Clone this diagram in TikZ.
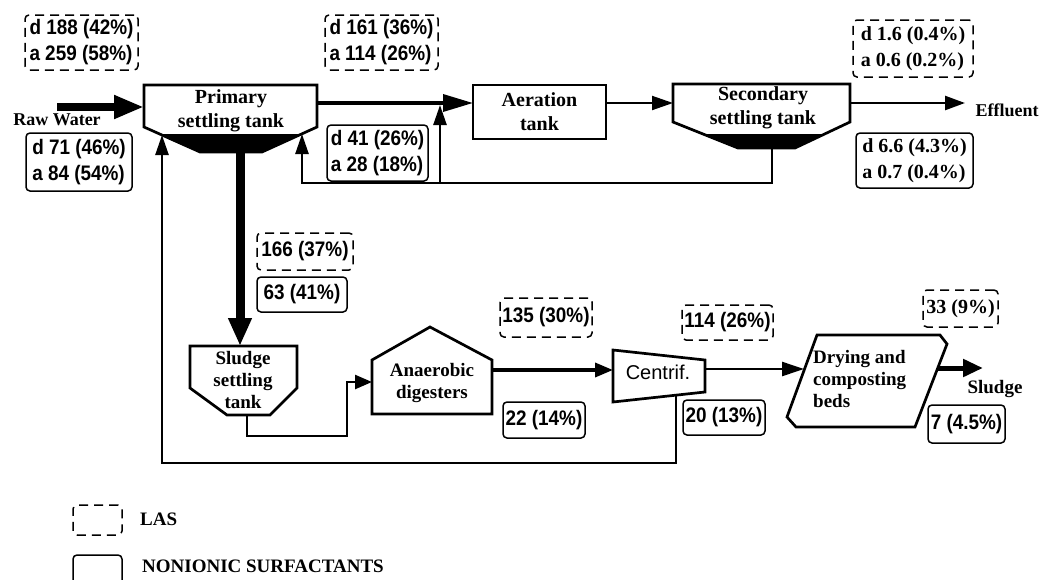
\documentclass[tikz,border=0pt]{standalone}
\usepackage{fontspec}
\setmainfont{Liberation Serif}
\newfontfamily\arl[FakeStretch=0.9]{Liberation Sans}
\newfontfamily\arlr{Liberation Sans}
\usetikzlibrary{arrows.meta}
\tikzset{
  shp/.style={draw=black, line width=2.7pt, line join=miter, fill=white},
  ttl/.style={font=\bfseries\fontsize{20}{24}\selectfont, align=center, inner sep=0pt},
  ttls/.style={font=\bfseries\fontsize{19}{22}\selectfont, align=center, inner sep=0pt},
  lbox/.style={line width=1.5pt, rounded corners=4pt, inner sep=0pt, align=left},
  las/.style={lbox, draw, dash pattern=on 9pt off 6pt},
  non/.style={lbox, draw},
  sansf/.style={font=\arl\bfseries\fontsize{21}{26}\selectfont},
  serf/.style={font=\bfseries\fontsize{20}{26}\selectfont},
  flow/.style={line width=2.5pt},
}
\begin{document}
\begin{tikzpicture}[x=1pt,y=-1pt]
\useasboundingbox (0,0) rectangle (1053,579);
\fill[white] (0,0) rectangle (1053,579);

% ---- ports ----
\coordinate (rawS) at (57,107);
\coordinate (primW) at (144,107);
\coordinate (primE) at (317,103);
\coordinate (primB) at (240,152);
\coordinate (primRd) at (302,134);
\coordinate (primLd) at (162,135);
\coordinate (aerW) at (473,103);
\coordinate (aerE) at (606,103);
\coordinate (secW) at (673,103);
\coordinate (secE) at (850,103);
\coordinate (secB) at (772,148);
\coordinate (effT) at (965,103);
\coordinate (recR) at (772,183);
\coordinate (recJ) at (440,183);
\coordinate (recL) at (302,183);
\coordinate (mainJ) at (440,105);
\coordinate (slT) at (240,346);
\coordinate (slB) at (247,415);
\coordinate (sl1) at (247,436);
\coordinate (sl2) at (347,436);
\coordinate (sl3) at (347,382);
\coordinate (anW) at (372,382);
\coordinate (anE) at (492,370);
\coordinate (ceW) at (613,370);
\coordinate (ceE) at (705,369);
\coordinate (ceB) at (676,395);
\coordinate (ret1) at (676,463);
\coordinate (ret2) at (162,463);
\coordinate (drW) at (804,369);
\coordinate (drE) at (938,368);
\coordinate (sluT) at (983,368);

% ---- shapes ----
\draw[shp] (144,85) -- (317,85) -- (317,127) -- (262,152) -- (200,152) -- (144,127) -- cycle;
\fill (161,134) -- (300,134) -- (262,152) -- (200,152) -- cycle;
\node[ttl] (prim) at (231,111) {Primary\\settling tank};

\node[draw, line width=2.7pt, minimum width=133pt, minimum height=54pt, ttl] (aer) at (539.5,112) {Aeration\\tank};

\draw[shp] (673,84) -- (850,84) -- (850,122) -- (795,148) -- (738,148) -- (673,122) -- cycle;
\fill (704,134) -- (823,134) -- (795,148) -- (738,148) -- cycle;
\node[ttl] (sec) at (763,108) {Secondary\\settling tank};

\draw[shp] (190,346) -- (297,346) -- (297,388) -- (270,415) -- (227,415) -- (190,388) -- cycle;
\node[ttls] (sls) at (243,380) {Sludge\\settling\\tank};

\draw[shp] (372,414) -- (372,360) -- (430,327) -- (492,360) -- (492,414) -- cycle;
\node[ttls] (ana) at (432,383) {Anaerobic\\digesters};

\draw[shp] (613,350) -- (705,360) -- (705,392) -- (613,402) -- cycle;
\node[font=\arlr\fontsize{20}{24}\selectfont, inner sep=0pt] (cen) at (658,372) {Centrif.};

\draw[shp] (817,335) -- (940,335) -- (947,344) -- (915,427) -- (796,427) -- (787,417) -- cycle;
\node[ttls, align=left, anchor=west] (dry) at (813,379) {Drying and\\composting\\beds};

% ---- connectors ----
\draw[line width=8pt, -{Triangle[length=30pt,width=22pt]}] (rawS) -- (primW);
\draw[line width=3.5pt, -{Triangle[length=30pt,width=17pt]}] (primE) -- (aerW);
\draw[line width=2pt, -{Triangle[length=21pt,width=14pt]}] (aerE) -- (secW);
\draw[line width=2.5pt, -{Triangle[length=20pt,width=14pt]}] (secE) -- (effT);
\draw[flow, -{Triangle[length=20pt,width=13pt]}] (secB) -- (recR) -- (recL) -- (primRd);
\draw[flow, -{Triangle[length=20pt,width=13pt]}] (recJ) -- (mainJ);
\draw[line width=9pt, -{Triangle[length=28pt,width=22pt]}] (primB) -- (slT);
\draw[flow, -{Triangle[length=17pt,width=14pt]}] (slB) -- (sl1) -- (sl2) -- (sl3) -- (anW);
\draw[line width=3.5pt, -{Triangle[length=18pt,width=14pt]}] (anE) -- (ceW);
\draw[flow, -{Triangle[length=22pt,width=14pt]}] (ceE) -- (drW);
\draw[line width=5pt, -{Triangle[length=20pt,width=17pt]}] (drE) -- (sluT);
\draw[flow, -{Triangle[length=20pt,width=13pt]}] (ceB) -- (ret1) -- (ret2) -- (primLd);

% ---- plain texts ----
\node[font=\bfseries\fontsize{18}{22}\selectfont, anchor=base, inner sep=0pt] (raw) at (57,125) {Raw Water};
\node[font=\bfseries\fontsize{18}{22}\selectfont, anchor=base, inner sep=0pt] (eff) at (1007,116) {Effluent};
\node[font=\bfseries\fontsize{19}{22}\selectfont, anchor=base, inner sep=0pt] (slu) at (995,393) {Sludge};

% ---- LAS labels (dashed) ----
\node[las, sansf, minimum width=113pt, minimum height=55pt] (l1) at (81.5,42.5) {d 188 (42\%)\\a 259 (58\%)};
\node[las, sansf, minimum width=113pt, minimum height=55pt] (l2) at (381.5,42.5) {d 161 (36\%)\\a 114 (26\%)};
\node[las, serf, minimum width=120pt, minimum height=57pt] (l3) at (913,48.5) {d 1.6 (0.4\%)\\a 0.6 (0.2\%)};
\node[las, sansf, minimum width=96pt, minimum height=37pt] (l4) at (305,251.5) {166 (37\%)};
\node[las, sansf, minimum width=92pt, minimum height=39pt] (l5) at (546,317.5) {135 (30\%)};
\node[las, sansf, minimum width=91pt, minimum height=35pt] (l6) at (727.5,322.5) {114 (26\%)};
\node[las, serf, minimum width=75pt, minimum height=37pt] (l7) at (960.5,308.5) {33 (9\%)};

% ---- nonionic labels (solid) ----
\node[non, sansf, minimum width=106pt, minimum height=58pt] (n1) at (79,162) {d 71 (46\%)\\a 84 (54\%)};
\node[non, sansf, minimum width=101pt, minimum height=56pt] (n2) at (377.5,153) {d 41 (26\%)\\a 28 (18\%)};
\node[non, serf, minimum width=117pt, minimum height=55pt] (n3) at (914.5,160.5) {d 6.6 (4.3\%)\\a 0.7 (0.4\%)};
\node[non, sansf, minimum width=90pt, minimum height=35pt] (n4) at (302,294.5) {63 (41\%)};
\node[non, sansf, minimum width=82pt, minimum height=36pt] (n5) at (544,420) {22 (14\%)};
\node[non, sansf, minimum width=82pt, minimum height=35pt] (n6) at (724,417.5) {20 (13\%)};
\node[non, sansf, minimum width=77pt, minimum height=38pt] (n7) at (966.5,424) {7 (4.5\%)};

% ---- legend ----
\node[las, minimum width=49pt, minimum height=30pt] (legL) at (97.5,520) {};
\node[non, minimum width=49pt, minimum height=35pt] (legN) at (97.5,572.5) {};
\node[font=\bfseries\fontsize{19}{22}\selectfont, anchor=base west, inner sep=0pt] (legLt) at (140,525) {LAS};
\node[font=\bfseries\fontsize{19}{22}\selectfont, anchor=base west, inner sep=0pt] (legNt) at (142,572) {NONIONIC SURFACTANTS};
\end{tikzpicture}
\end{document}
